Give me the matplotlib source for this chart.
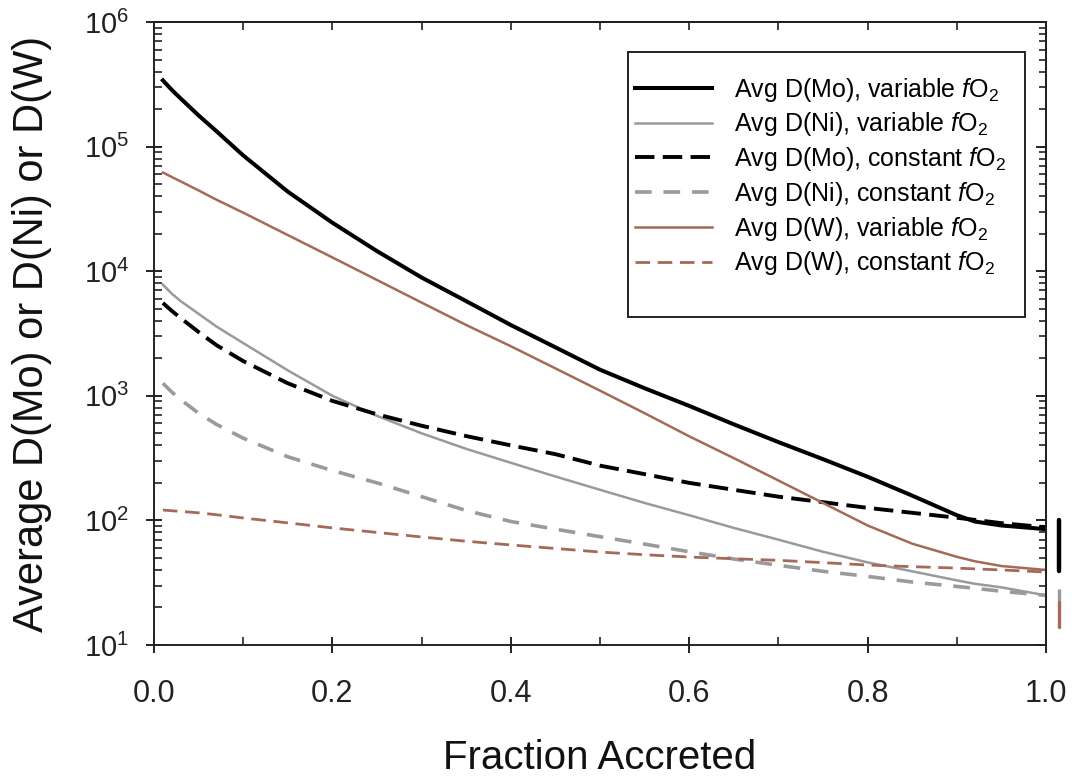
import matplotlib
matplotlib.use("Agg")
import matplotlib.pyplot as plt
from matplotlib.patches import Rectangle
import numpy as np

plt.rcParams['font.family'] = ['Liberation Sans', 'DejaVu Sans']
plt.rcParams['mathtext.fontset'] = 'custom'
plt.rcParams['mathtext.rm'] = 'Liberation Sans'
plt.rcParams['mathtext.it'] = 'Liberation Sans:italic'
plt.rcParams['mathtext.bf'] = 'Liberation Sans:bold'
plt.rcParams['lines.scale_dashes'] = False

# fraction of the planet accreted
frac = [0.01, 0.02, 0.03, 0.05, 0.07, 0.1, 0.15, 0.2, 0.25, 0.3, 0.35, 0.4, 0.45,
        0.5, 0.55, 0.6, 0.65, 0.7, 0.75, 0.8, 0.85, 0.9, 0.92, 0.95, 1.0]

# average metal/silicate partition coefficients along the accretion path
mo_var = [3.4e5, 2.85e5, 2.43e5, 1.78e5, 1.33e5, 8.5e4, 4.35e4, 2.45e4, 1.45e4, 8.9e3, 5.75e3, 3.7e3, 2.45e3,
          1.62e3, 1.15e3, 830, 590, 425, 310, 224, 158, 110, 98, 91, 85]
ni_var = [7.8e3, 6.6e3, 5.75e3, 4.55e3, 3.6e3, 2.65e3, 1.6e3, 1.0e3, 690, 500, 375, 290, 225,
          176, 138, 110, 87, 70, 56, 46, 39, 33, 31, 29, 25]
mo_const = [5.56e3, 4.8e3, 4.2e3, 3.25e3, 2.55e3, 1.9e3, 1.26e3, 910, 710, 575, 475, 400, 340,
            275, 235, 200, 176, 155, 140, 126, 115, 105, 101, 95, 88]
ni_const = [1.26e3, 1.07e3, 930, 725, 590, 457, 324, 251, 200, 155, 120, 98, 85,
            74, 64.5, 56, 49, 43.6, 39, 35.5, 32, 29.5, 28.5, 27, 25]
w_var = [6.2e4, 5.7e4, 5.25e4, 4.45e4, 3.75e4, 2.95e4, 1.95e4, 1.29e4, 8.5e3, 5.6e3, 3.7e3, 2.5e3, 1.66e3,
         1.1e3, 725, 473, 316, 209, 138, 91, 65, 51, 47, 43, 40]
w_const = [121, 119.5, 118, 115, 111, 104.5, 95.5, 87, 80, 73.6, 68, 63.5, 59.5,
           55.7, 53, 50.8, 49.2, 47.8, 45.8, 43.8, 42.5, 41.4, 40.8, 40, 38.5]

# present-day mantle ranges, drawn just right of the axes
mo_range = [39, 100]
ni_range = [22, 28]
w_range = [14, 22]
range_x = 1.015

labels = [r'Avg D(Mo), variable $\mathit{f}$O$_2$',
          r'Avg D(Ni), variable $\mathit{f}$O$_2$',
          r'Avg D(Mo), constant $\mathit{f}$O$_2$',
          r'Avg D(Ni), constant $\mathit{f}$O$_2$',
          r'Avg D(W), variable $\mathit{f}$O$_2$',
          r'Avg D(W), constant $\mathit{f}$O$_2$']

gray = '#9a9a9a'
brown = '#a46a58'
ink = '#222222'

fig = plt.figure(figsize=(10.79, 7.78), dpi=100)
ax = fig.add_axes([0.1427, 0.171, 0.8267, 0.8007])

ax.plot(frac, mo_var, color='k', lw=2.9, label=labels[0])
ax.plot(frac, ni_var, color=gray, lw=1.8, label=labels[1])
ax.plot(frac, mo_const, color='k', lw=2.8, dashes=(14, 6), label=labels[2])
ax.plot(frac, ni_const, color=gray, lw=2.6, dashes=(12, 8.5), label=labels[3])
ax.plot(frac, w_var, color=brown, lw=1.8, label=labels[4])
ax.plot(frac, w_const, color=brown, lw=2.0, dashes=(10.5, 5.5), label=labels[5])

ax.plot([range_x, range_x], mo_range, color='k', lw=3.2, clip_on=False, solid_capstyle='round')
ax.plot([range_x, range_x], ni_range, color=gray, lw=2.4, clip_on=False, solid_capstyle='butt')
ax.plot([range_x, range_x], w_range, color=brown, lw=2.4, clip_on=False, solid_capstyle='round')

ax.set_yscale('log')
ax.set_xlim(0, 1.0)
ax.set_ylim(10, 1e6)
ax.set_xticks(np.arange(0, 1.01, 0.2))
ax.set_xticklabels(['0.0', '0.2', '0.4', '0.6', '0.8', '1.0'])
ax.set_xticks(np.arange(0, 1.01, 0.1), minor=True)

for s in ax.spines.values():
    s.set_linewidth(1.4)
    s.set_color(ink)

ax.tick_params(axis='both', which='major', direction='inout', length=11.5, width=1.4, colors=ink)
ax.tick_params(axis='x', which='major', pad=19, labelsize=22)
ax.tick_params(axis='y', which='major', pad=12, labelsize=21)
ax.tick_params(axis='both', which='minor', direction='in', length=5.5, width=1.2, colors=ink)

top = ax.secondary_xaxis('top')
top.set_xticks(np.arange(0, 1.01, 0.1))
top.tick_params(direction='in', length=5.5, width=1.2, labeltop=False, colors=ink)
top.spines['top'].set_linewidth(1.4)

right = ax.secondary_yaxis('right')
right.tick_params(which='major', direction='in', length=7, width=1.4, labelright=False, colors=ink)
right.tick_params(which='minor', direction='in', length=5, width=1.2, colors=ink)
right.spines['right'].set_linewidth(1.4)

ax.set_xlabel('Fraction Accreted', fontsize=29, labelpad=21, color='#111111')
ax.set_ylabel('Average D(Mo) or D(Ni) or D(W)', fontsize=30, labelpad=23, color='#111111')

# legend frame drawn separately so the top/bottom margins can be wider than the sides
box = Rectangle((0.5314, 0.5265), 0.4451, 0.4253, transform=ax.transAxes,
                facecolor='white', edgecolor=ink, lw=1.4, zorder=4)
ax.add_patch(box)
leg = ax.legend(loc='center left', bbox_to_anchor=(0.5392, 0.752), borderaxespad=0,
                fontsize=18, handlelength=3.1, handletextpad=0.85, labelspacing=0.27,
                borderpad=0, frameon=False)
leg.set_zorder(5)

fig.savefig('out.png', dpi=100)
